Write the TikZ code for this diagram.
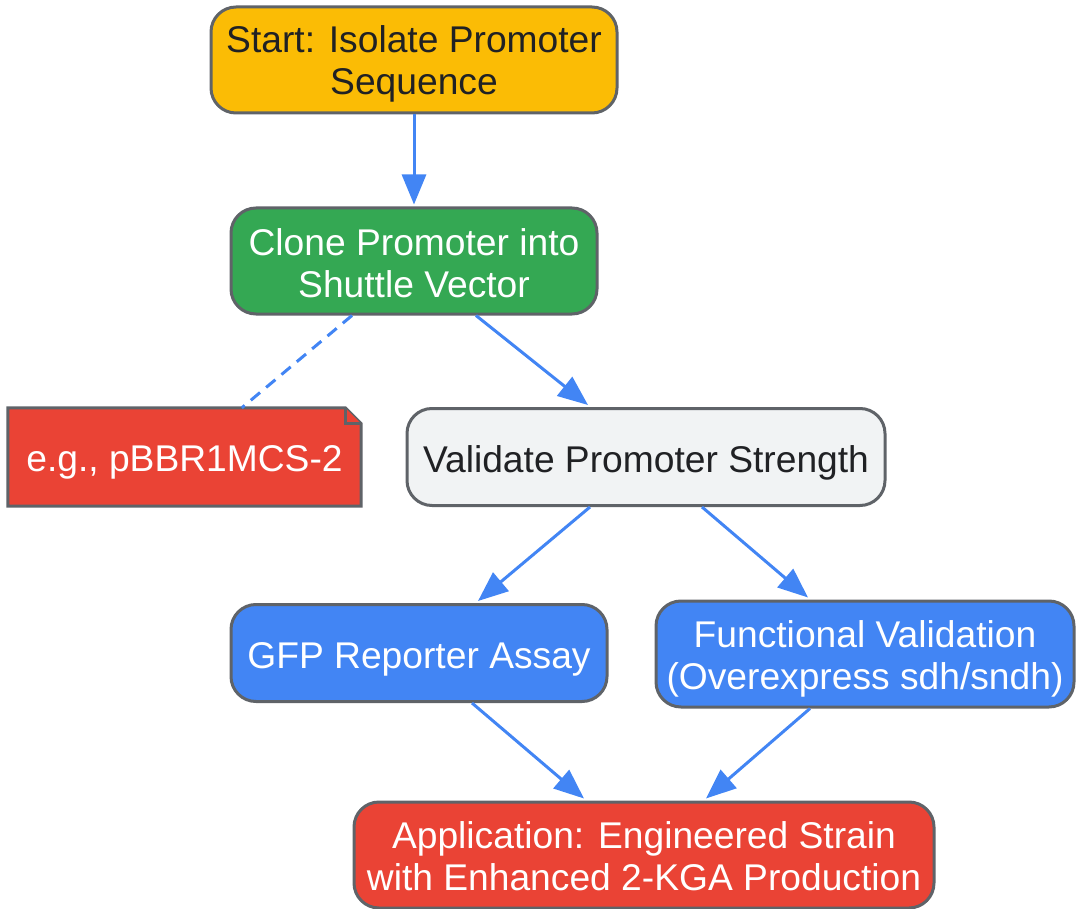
\documentclass[tikz,border=0pt]{standalone}
\usepackage{fontspec}
\setmainfont{Liberation Sans}
\usetikzlibrary{arrows.meta,calc}
\definecolor{cyellow}{HTML}{FBBC05}
\definecolor{cgreen}{HTML}{34A853}
\definecolor{cred}{HTML}{EA4335}
\definecolor{cblue}{HTML}{4285F4}
\definecolor{clight}{HTML}{F1F3F4}
\definecolor{cborder}{HTML}{5F6368}
\definecolor{ctext}{HTML}{202124}
\tikzset{
  x=1pt,y=-1pt,
  box/.style={draw=cborder,line width=3pt,rounded corners=25pt,inner sep=0pt},
  lbl/.style={align=center,inner sep=0pt,font=\fontsize{37.2}{41.5}\selectfont},
  conn/.style={draw=cblue,line width=3pt,-{Triangle[length=30pt,width=24pt]}},
  dconn/.style={draw=cblue,line width=3pt,dash pattern=on 12pt off 8pt},
}
\begin{document}
\begin{tikzpicture}
\useasboundingbox (0,0) rectangle (1076,909);
\node[box,fill=cyellow,minimum width=406pt,minimum height=106pt] (start) at (414,60) {};
\node[lbl,text=ctext] (startt) at ($(start.center)+(0,4)$) {Start: Isolate Promoter\\Sequence};
\node[box,fill=cgreen,minimum width=366pt,minimum height=106pt] (clone) at (414,261) {};
\node[lbl,text=white] (clonet) at ($(clone.center)+(0,2)$) {Clone Promoter into\\Shuttle Vector};
\node[box,fill=clight,minimum width=478pt,minimum height=97pt] (valid) at (646,457) {};
\node[lbl,text=ctext] (validt) at ($(valid.center)+(0,6)$) {Validate Promoter Strength};
\node[box,fill=cblue,minimum width=376pt,minimum height=97pt] (gfp) at (419,653) {};
\node[lbl,text=white] (gfpt) at ($(gfp.center)+(0,6)$) {GFP Reporter Assay};
\node[box,fill=cblue,minimum width=418pt,minimum height=106pt] (func) at (865,654) {};
\node[lbl,text=white] (funct) at ($(func.center)+(0,5)$) {Functional Validation\\(Overexpress sdh/sndh)};
\node[box,fill=cred,minimum width=580pt,minimum height=106pt] (app) at (644,855) {};
\node[lbl,text=white] (appt) at ($(app.center)+(0,1)$) {Application: Engineered Strain\\with Enhanced 2-KGA Production};
% note
\node[inner sep=0pt,minimum width=353pt,minimum height=98pt] (note) at (184.5,457) {};
\draw[draw=cborder,fill=cred,line width=3pt,line join=miter]
  (note.north west) -- ($(note.north east)+(-16,0)$) -- ($(note.north east)+(0,16)$) -- (note.south east) -- (note.south west) -- cycle;
\draw[draw=cborder,fill=cred,line width=3pt]
  ($(note.north east)+(-16,0)$) -- ($(note.north east)+(-16,16)$) -- ($(note.north east)+(0,16)$);
\node[lbl,text=white] (notet) at ($(note.center)+(0,5)$) {e.g., pBBR1MCS-2};
% connectors
\draw[conn] (start.south) -- ($(clone.north)+(0,-2)$);
\draw[dconn] ($(clone.south)+(-62,0)$) -- ($(note.north west)+(234,0)$);
\draw[conn] ($(clone.south)+(62,0)$) -- ($(valid.north)+(-58,-2)$);
\draw[conn] ($(valid.south)+(-56,0)$) -- ($(gfp.north)+(59,-2)$);
\draw[conn] ($(valid.south)+(56,0)$) -- ($(func.north)+(-57,-2)$);
\draw[conn] ($(gfp.south)+(53,0)$) -- ($(app.north)+(-60,-2)$);
\draw[conn] ($(func.south)+(-55,0)$) -- ($(app.north)+(62,-2)$);
\end{tikzpicture}
\end{document}
